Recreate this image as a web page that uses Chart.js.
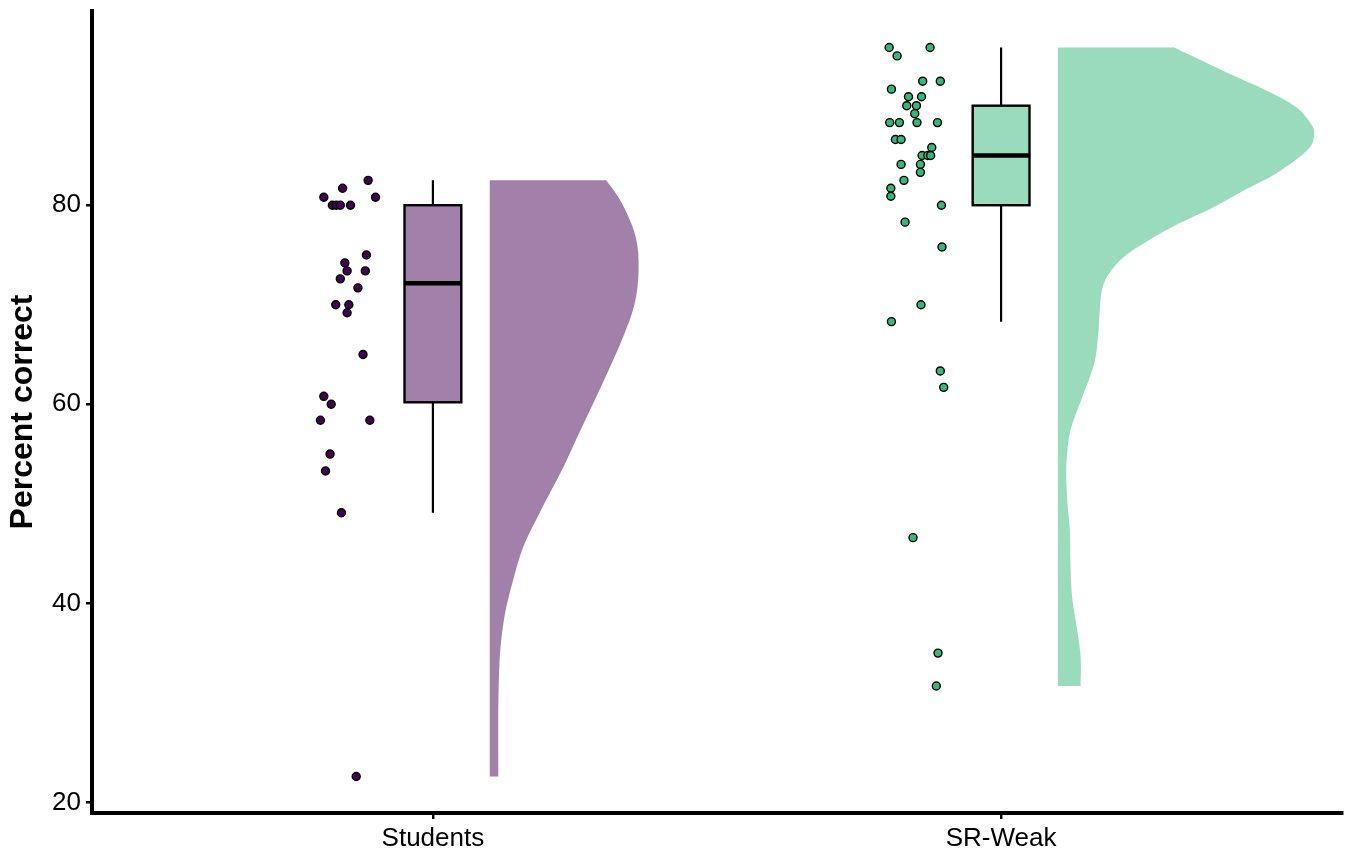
<!DOCTYPE html>
<html>
<head>
<meta charset="utf-8">
<script src="https://cdn.jsdelivr.net/npm/chart.js@4.4.1/dist/chart.umd.min.js"></script>
<style>
  html, body { margin: 0; padding: 0; background: #ffffff; }
  #wrap { width: 1349px; height: 852px; }
</style>
</head>
<body>
<div id="wrap"><canvas id="c" width="1349" height="852"></canvas></div>
<script>
// Groups and axis ticks
const categories = ['Students', 'SR-Weak'];
const yTicks = [20, 40, 60, 80];

// Individual scores (percent correct) and their horizontal jitter (category units)
const studentsScores = [82.5, 81.7, 80.8, 80.8, 80.0, 80.0, 80.0, 80.0, 75.0, 74.2, 73.4, 73.4, 72.6,
  71.7, 70.0, 70.0, 69.2, 65.0, 60.8, 60.0, 58.4, 58.4, 55.0, 53.3, 49.1, 22.6];
const studentsJitter = [-0.114, -0.159, -0.192, -0.101, -0.177, -0.170, -0.163, -0.145, -0.117, -0.155,
  -0.151, -0.119, -0.163, -0.132, -0.171, -0.148, -0.151, -0.123, -0.192, -0.179, -0.198, -0.111,
  -0.181, -0.189, -0.161, -0.135];

const srWeakScores = [95.85, 95.0, 95.85, 92.46, 92.46, 91.66, 90.9, 90.9, 90.0, 90.0, 89.2, 88.3, 88.3,
  88.3, 88.3, 86.6, 86.6, 85.8, 85.0, 85.0, 85.0, 84.1, 84.1, 83.3, 82.5, 81.7, 80.9, 80.0, 78.3, 75.8,
  70.0, 68.3, 63.35, 61.7, 46.6, 35.0, 31.7];
const srWeakJitter = [-0.197, -0.183, -0.125, -0.138, -0.107, -0.193, -0.163, -0.140, -0.166, -0.149,
  -0.152, -0.196, -0.179, -0.148, -0.112, -0.186, -0.176, -0.122, -0.139, -0.129, -0.124, -0.176,
  -0.142, -0.142, -0.171, -0.194, -0.194, -0.105, -0.169, -0.104, -0.141, -0.193, -0.107, -0.101,
  -0.155, -0.111, -0.114];

// Half-violin outlines: score levels and density half-widths (x-axis units)
const studentsViolinLevels = [82.5, 80.17, 76.8, 73.5, 70.1, 66.8, 63.4, 60.07, 56.7, 53.4, 49.0, 45.66,
  42.3, 39.0, 35.6, 32.3, 28.9, 25.6, 22.6];
const studentsViolinWidths = [0.205, 0.233, 0.257, 0.262, 0.255, 0.235, 0.209, 0.182, 0.154, 0.127,
  0.087, 0.059, 0.041, 0.027, 0.019, 0.016, 0.015, 0.015, 0.015];

const srWeakViolinLevels = [95.85, 93.24, 91.56, 89.88, 88.21, 87.09, 85.53, 83.19, 81.6, 79.83, 78.16,
  76.48, 74.8, 73.13, 71.6, 69.78, 67.1, 64.09, 60.73, 57.39, 54.04, 50.68, 47.34, 43.99, 40.63,
  37.29, 34.6, 31.7];
const srWeakViolinWidths = [0.205, 0.301, 0.366, 0.419, 0.445, 0.451, 0.439, 0.384, 0.331, 0.275, 0.213,
  0.160, 0.116, 0.090, 0.078, 0.074, 0.071, 0.064, 0.043, 0.022, 0.015, 0.016, 0.021, 0.022, 0.025,
  0.034, 0.040, 0.040];

const groupColors = ['#440154', '#35B779'];
const groupFills = ['rgba(68,1,84,0.5)', 'rgba(53,183,121,0.5)'];

const groups = [
  { scores: studentsScores, jitter: studentsJitter, levels: studentsViolinLevels, widths: studentsViolinWidths },
  { scores: srWeakScores, jitter: srWeakJitter, levels: srWeakViolinLevels, widths: srWeakViolinWidths }
];

// Type-7 quantile, as used for box hinges
function quantile(sorted, p) {
  const h = (sorted.length - 1) * p;
  const lo = Math.floor(h), hi = Math.ceil(h);
  return sorted[lo] + (sorted[hi] - sorted[lo]) * (h - lo);
}
function boxStats(values) {
  const s = values.slice().sort((a, b) => a - b);
  const q1 = quantile(s, 0.25), med = quantile(s, 0.5), q3 = quantile(s, 0.75);
  const iqr = q3 - q1;
  const inside = s.filter(v => v >= q1 - 1.5 * iqr && v <= q3 + 1.5 * iqr);
  return { lo: inside[0], q1, med, q3, hi: inside[inside.length - 1] };
}

const allScores = studentsScores.concat(srWeakScores);
const yMinData = Math.min(...allScores), yMaxData = Math.max(...allScores);
const yPad = (yMaxData - yMinData) * 0.05;

const VIOLIN_NUDGE = 0.1;
const BOX_WIDTH = 0.1;

const raincloud = {
  id: 'raincloud',
  beforeDatasetsDraw(chart) {
    const { ctx, scales: { x, y } } = chart;
    groups.forEach((g, i) => {
      const cx = i + 1;
      // half violin to the right of each group
      const base = cx + VIOLIN_NUDGE;
      const pts = g.levels.map((lv, k) => [x.getPixelForValue(base + g.widths[k]), y.getPixelForValue(lv)]);
      ctx.save();
      ctx.fillStyle = groupFills[i];
      ctx.beginPath();
      ctx.moveTo(x.getPixelForValue(base), pts[0][1]);
      ctx.lineTo(pts[0][0], pts[0][1]);
      for (let k = 0; k < pts.length - 1; k++) {
        const p0 = pts[Math.max(k - 1, 0)], p1 = pts[k], p2 = pts[k + 1], p3 = pts[Math.min(k + 2, pts.length - 1)];
        const c1x = p1[0] + (p2[0] - p0[0]) / 6, c1y = p1[1] + (p2[1] - p0[1]) / 6;
        const c2x = p2[0] - (p3[0] - p1[0]) / 6, c2y = p2[1] - (p3[1] - p1[1]) / 6;
        ctx.bezierCurveTo(c1x, c1y, c2x, c2y, p2[0], p2[1]);
      }
      ctx.lineTo(x.getPixelForValue(base), pts[pts.length - 1][1]);
      ctx.closePath();
      ctx.fill();
      ctx.restore();

      // box plot (outliers not drawn)
      const st = boxStats(g.scores);
      const xl = x.getPixelForValue(cx - BOX_WIDTH / 2), xr = x.getPixelForValue(cx + BOX_WIDTH / 2);
      const xc = x.getPixelForValue(cx);
      ctx.save();
      ctx.strokeStyle = '#000';
      ctx.lineWidth = 2.2;
      ctx.beginPath();
      ctx.moveTo(xc, y.getPixelForValue(st.hi));
      ctx.lineTo(xc, y.getPixelForValue(st.q3));
      ctx.moveTo(xc, y.getPixelForValue(st.q1));
      ctx.lineTo(xc, y.getPixelForValue(st.lo));
      ctx.stroke();
      const yt = y.getPixelForValue(st.q3), yb = y.getPixelForValue(st.q1);
      ctx.fillStyle = groupFills[i];
      ctx.fillRect(xl, yt, xr - xl, yb - yt);
      ctx.lineWidth = 2.4;
      ctx.strokeRect(xl, yt, xr - xl, yb - yt);
      ctx.lineWidth = 4.5;
      ctx.beginPath();
      const ym = y.getPixelForValue(st.med);
      ctx.moveTo(xl, ym);
      ctx.lineTo(xr, ym);
      ctx.stroke();
      ctx.restore();
    });
  }
};

const datasets = groups.map((g, i) => ({
  label: categories[i],
  data: g.scores.map((v, k) => ({ x: i + 1 + g.jitter[k], y: v })),
  backgroundColor: groupColors[i],
  borderColor: '#000000',
  borderWidth: 1.4,
  pointRadius: 4,
  pointHoverRadius: 4
}));

new Chart(document.getElementById('c'), {
  type: 'scatter',
  data: { datasets },
  plugins: [raincloud],
  options: {
    responsive: false,
    animation: false,
    events: [],
    layout: { padding: { top: 11, right: 7, left: 0, bottom: 0 } },
    plugins: { legend: { display: false }, tooltip: { enabled: false } },
    scales: {
      x: {
        type: 'linear',
        min: 0.4,
        max: 2.6,
        afterBuildTicks: s => { s.ticks = [{ value: 1 }, { value: 2 }]; },
        afterFit: s => { s.height = 39; s.paddingLeft = 0; s.paddingRight = 0; },
        ticks: {
          callback: v => categories[v - 1] || '',
          color: '#000',
          font: { family: 'Liberation Sans, Arial, sans-serif', size: 26 },
          padding: 4,
          maxRotation: 0,
          autoSkip: false
        },
        grid: { display: true, drawOnChartArea: false, drawTicks: true, tickLength: 6, color: '#000', lineWidth: 2.5 },
        border: { display: true, color: '#000', width: 4 }
      },
      y: {
        type: 'linear',
        min: yMinData - yPad,
        max: yMaxData + yPad,
        afterBuildTicks: s => { s.ticks = yTicks.map(v => ({ value: v })); },
        afterFit: s => { s.width = 92; s.paddingTop = 0; s.paddingBottom = 0; },
        ticks: {
          color: '#000',
          font: { family: 'Liberation Sans, Arial, sans-serif', size: 26 },
          padding: 5
        },
        title: {
          display: true,
          text: 'Percent correct',
          color: '#000',
          font: { family: 'Liberation Sans, Arial, sans-serif', size: 32, weight: 'bold' },
          padding: { top: 4, bottom: 4 }
        },
        grid: { display: true, drawOnChartArea: false, drawTicks: true, tickLength: 6, color: '#000', lineWidth: 2.5 },
        border: { display: true, color: '#000', width: 4 }
      }
    }
  }
});
</script>
</body>
</html>
